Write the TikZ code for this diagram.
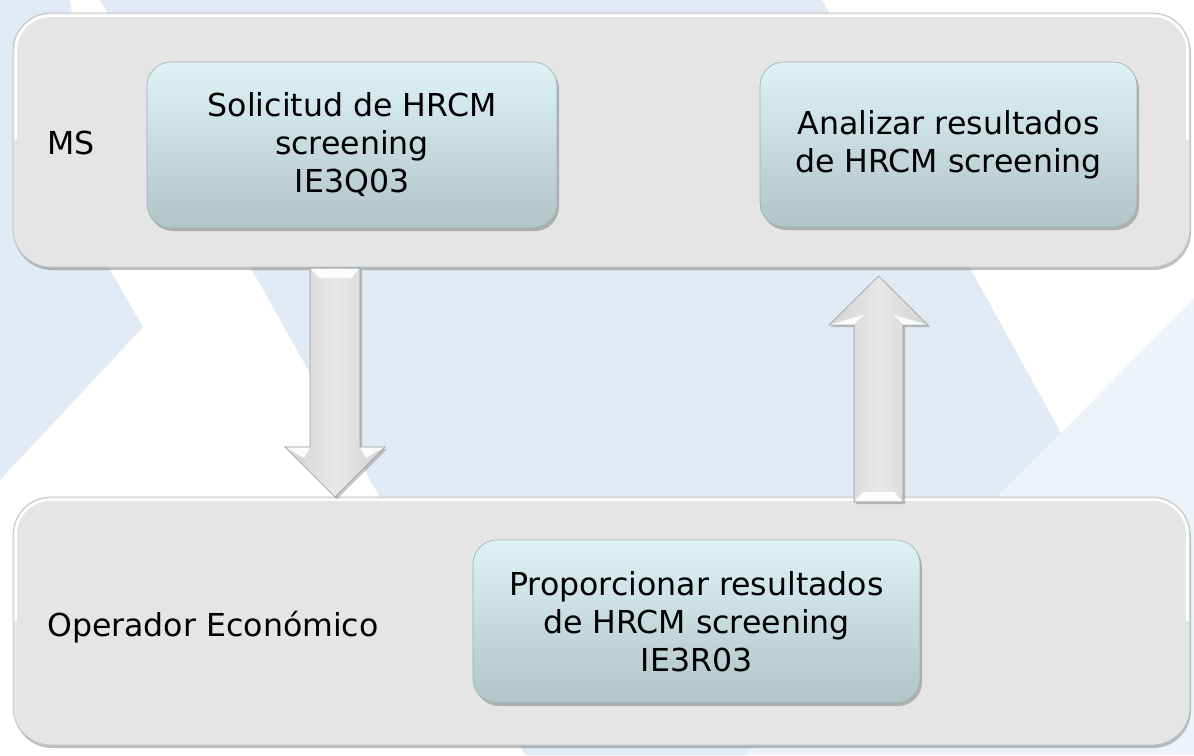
\documentclass[tikz,border=0pt]{standalone}
\usepackage{fontspec}
\setmainfont{DejaVu Sans}
\usetikzlibrary{calc,shadows}
\definecolor{bgblue}{HTML}{E1EBF5}
\definecolor{bglight}{HTML}{EEF3F9}
\definecolor{lanefill}{HTML}{E5E5E5}
\definecolor{laneedge}{HTML}{C2C2C2}
\definecolor{boxtop}{HTML}{DDF3F6}
\definecolor{boxbot}{HTML}{B1C4C8}
\definecolor{boxedge}{HTML}{9AAFB3}
\definecolor{arrmid}{HTML}{E8E8E8}
\definecolor{arrside}{HTML}{D2D2D2}
\definecolor{arredge}{HTML}{9A9A9A}
\begin{document}
\begin{tikzpicture}[x=1pt,y=-1pt,
  lane/.style={draw=laneedge, line width=0.8pt, fill=lanefill, rounded corners=38pt,
    minimum width=1177pt, inner sep=0pt,
    drop shadow={shadow xshift=1pt, shadow yshift=-3pt, opacity=0.35, fill=black!70}},
  lanehl/.style={white, line width=2.5pt, rounded corners=35pt},
  stepbox/.style={rounded corners=24pt, top color=boxtop, bottom color=boxbot,
    draw=boxedge, line width=0.6pt, inner sep=0pt, align=center, text=black,
    font=\fontsize{31.6}{38}\selectfont,
    drop shadow={shadow xshift=2pt, shadow yshift=-3pt, opacity=0.35, fill=black!70}},
  lbl/.style={inner sep=0pt, text=black, font=\fontsize{31.6}{38}\selectfont},
  blockarrow/.style={left color=arrside, right color=arrside, middle color=arrmid,
    draw=arredge, line width=0.6pt, line join=miter,
    drop shadow={shadow xshift=2pt, shadow yshift=-2pt, opacity=0.3, fill=black!70}},
  bevel/.style={fill=white, opacity=0.9}
]
\useasboundingbox (0,0) rectangle (1194,755);
% background watermark
\fill[white] (0,0) rectangle (1194,755);
\fill[bgblue] (0,0) -- (70,0) -- (110,270) -- (143,327) -- (0,480) -- cycle;
\fill[bgblue] (100,0) -- (822,0) -- (1061,433) -- (745,755) -- (525,755) -- cycle;
\fill[bglight] (1061,433) -- (1194,298) -- (1194,755) -- (745,755) -- cycle;

% lanes
\node[lane, minimum height=254pt] (ms) at (601.5,140) {};
\node[lane, minimum height=248pt] (oe) at (601.5,621) {};
\draw[lanehl] ($(ms.west)+(3,0)$) |- ($(ms.north)+(0,3)$) -| ($(ms.east)+(-3,0)$);
\draw[lanehl] ($(oe.west)+(3,0)$) |- ($(oe.north)+(0,3)$) -| ($(oe.east)+(-3,0)$);

% lane labels
\node[lbl, anchor=base west] (msl) at (47,154.5) {MS};
\node[lbl, anchor=base west] (oel) at (47,636.5) {Operador Económico};

% arrow end points
\coordinate (dtop) at (335,268);
\coordinate (dtip) at (335,497);
\coordinate (ubot) at (878.5,502);
\coordinate (utip) at (878.5,276);

% down arrow
\path[blockarrow] ($(dtop)+(-25,0)$) -- ($(dtip)+(-25,-50)$) -- ($(dtip)+(-50,-50)$) -- (dtip)
  -- ($(dtip)+(50,-50)$) -- ($(dtip)+(25,-50)$) -- ($(dtop)+(25,0)$) -- cycle;
\fill[bevel] ($(dtop)+(-24,1)$) -- ($(dtop)+(24,1)$) -- ($(dtop)+(16,10)$) -- ($(dtop)+(-16,10)$) -- cycle;
\fill[bevel] ($(dtip)+(-49,-49.5)$) -- ($(dtip)+(-25,-49.5)$) -- ($(dtip)+(-31,-39)$) -- cycle;
\fill[bevel] ($(dtip)+(49,-49.5)$) -- ($(dtip)+(25,-49.5)$) -- ($(dtip)+(31,-39)$) -- cycle;

% up arrow
\path[blockarrow] ($(ubot)+(-24.5,0)$) -- ($(utip)+(-24.5,49)$) -- ($(utip)+(-49.5,49)$) -- (utip)
  -- ($(utip)+(49.5,49)$) -- ($(utip)+(24.5,49)$) -- ($(ubot)+(24.5,0)$) -- cycle;
\fill[bevel] ($(ubot)+(-23.5,-1)$) -- ($(ubot)+(23.5,-1)$) -- ($(ubot)+(15.5,-10)$) -- ($(ubot)+(-15.5,-10)$) -- cycle;
\fill[bevel] ($(utip)+(-48.5,48.5)$) -- ($(utip)+(-15,39)$) -- ($(utip)+(-24.5,48.5)$) -- cycle;
\fill[bevel] ($(utip)+(48.5,48.5)$) -- ($(utip)+(15,39)$) -- ($(utip)+(24.5,48.5)$) -- cycle;

% step boxes
\node[stepbox, minimum width=410pt, minimum height=166pt] (b1) at (352,145)
  {Solicitud de HRCM\\screening\\IE3Q03};
\node[stepbox, minimum width=377pt, minimum height=165pt] (b2) at (948.5,144.5)
  {Analizar resultados\\de HRCM screening};
\node[stepbox, minimum width=447pt, minimum height=163pt] (b3) at (696.5,621.5)
  {Proporcionar resultados\\de HRCM screening\\IE3R03};
\end{tikzpicture}
\end{document}
